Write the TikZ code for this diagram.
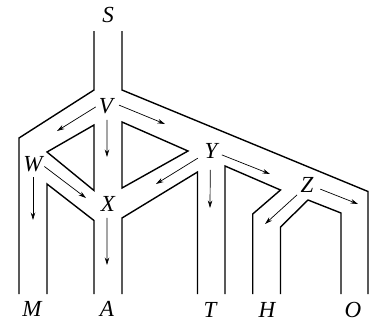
\documentclass[tikz,border=0pt]{standalone}
\usepackage{fontspec}
\setmainfont{Liberation Serif}
\usetikzlibrary{arrows.meta}
\tikzset{
  wall/.style={draw=black,line width=1.4pt,line join=miter,line cap=butt},
  flow/.style={draw=black,line width=0.7pt,-{Stealth[length=7.5pt,width=4.5pt]}},
  lab/.style={circle,minimum size=26pt,inner sep=0pt,outer sep=0pt,font=\fontsize{23}{23}\selectfont\itshape}
}
\begin{document}
\begin{tikzpicture}[x=1pt,y=-1pt]
\useasboundingbox (0,0) rectangle (378,322);
\draw[wall] (94,31) -- (94,90) -- (19,138) -- (19,294);
\draw[wall] (122,31) -- (122,90) -- (368,191.5) -- (368,294);
\draw[wall] (94,125) -- (47,152) -- (94,190.5) -- cycle;
\draw[wall] (122,122) -- (188,151) -- (122,188) -- cycle;
\draw[wall] (47,294) -- (47,184) -- (94,220.5) -- (94,294);
\draw[wall] (122,294) -- (122,218) -- (197.5,172) -- (197.5,294);
\draw[wall] (225,294) -- (225,166) -- (280.5,190) -- (252.7,214) -- (252.7,294);
\draw[wall] (280.5,294) -- (280.5,227) -- (308,200) -- (341,213) -- (341,294);
\node[lab] (S) at (108,15) {S};
\node[lab] (V) at (106,106) {V};
\node[lab] (W) at (33,164) {W};
\node[lab] (X) at (108,204) {X};
\node[lab] (Y) at (211,151) {Y};
\node[lab] (Z) at (307,185) {Z};
\node[lab] (M) at (32,309) {M};
\node[lab] (A) at (107,309) {A};
\node[lab] (T) at (210,310) {T};
\node[lab] (H) at (267,310) {H};
\node[lab] (O) at (353,310) {O};
\coordinate (vw) at (57,131);
\coordinate (vy) at (165,124);
\coordinate (vx) at (107,157);
\coordinate (wm) at (33,220);
\coordinate (wx) at (86,198);
\coordinate (xa) at (107,265);
\coordinate (yx) at (156,184);
\coordinate (yt) at (210,208);
\coordinate (yz) at (270,174);
\coordinate (zh) at (265,224);
\coordinate (zo) at (358,204);
\draw[flow,shorten <=-3pt] (V.191) -- (vw);
\draw[flow] (V.4) -- (vy);
\draw[flow,shorten <=1pt] (V.-86) -- (vx);
\draw[flow,shorten <=-1.5pt] (W.-15) -- (wx);
\draw[flow] (W.270) -- (wm);
\draw[flow,shorten <=1pt] (X.266) -- (xa);
\draw[flow,shorten <=2pt] (Y.208) -- (yx);
\draw[flow,shorten <=6pt] (Y.267) -- (yt);
\draw[flow,shorten <=-1.5pt] (Y.-20) -- (yz);
\draw[flow,shorten <=1pt] (Z.225) -- (zh);
\draw[flow,shorten <=1pt] (Z.-17) -- (zo);
\end{tikzpicture}
\end{document}
